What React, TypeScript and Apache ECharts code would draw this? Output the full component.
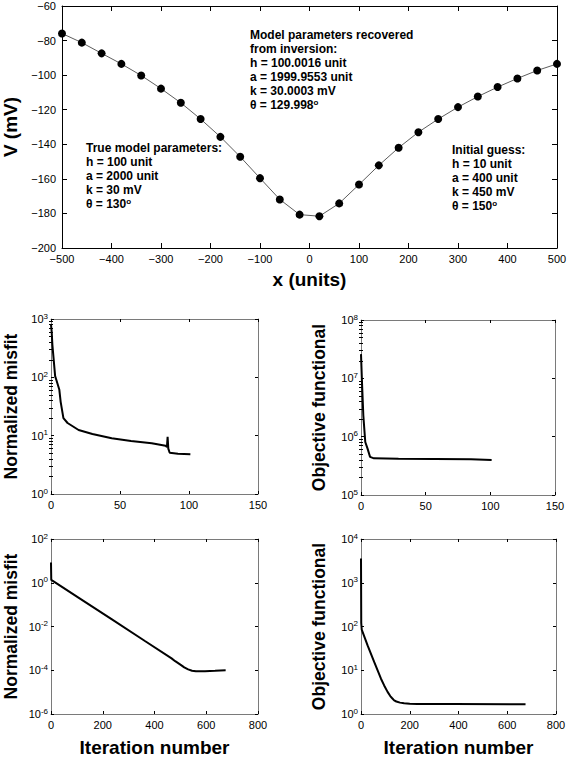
import React, { useEffect, useRef } from "react";
import * as echarts from "echarts";

// ---------- data ----------
const profileX = [-500, -460, -420, -380, -340, -300, -260, -220, -180, -140, -100, -60, -20, 20, 60, 100, 140, 180, 220, 260, 300, 340, 380, 420, 460, 500];
const profileV = [-75.9, -81.2, -87.4, -93.5, -100.2, -107.8, -116.0, -125.4, -135.7, -147.2, -159.6, -171.9, -180.7, -181.6, -174.2, -163.3, -152.2, -142.0, -133.0, -125.4, -118.5, -112.4, -106.9, -101.9, -97.3, -93.5];

const iterA = [0, 0.5, 1, 3, 4, 6, 7, 9, 12, 20, 30, 44, 58, 73, 83, 84, 84.5, 85, 86, 92, 101];
const misfitA = [800, 600, 360, 105, 88, 62, 38, 20, 16.5, 12.5, 10.7, 9.0, 8.1, 7.4, 6.7, 6.4, 9.6, 6.0, 5.1, 4.9, 4.8];

const iterB = [0, 0.25, 0.75, 1.8, 3.3, 5, 7, 10, 29, 85, 101];
const objectiveB = [2.6e7, 2.6e7, 8.7e6, 2.3e6, 8.1e5, 6.3e5, 4.5e5, 4.25e5, 4.2e5, 4.1e5, 4.0e5];

const iterC = [0, 0.5, 1, 106, 234, 363, 466, 480, 500, 515, 530, 545, 560, 595, 634, 675];
const misfitC = [8.5, 8.5, 1.35, 0.209, 0.0216, 0.00218, 3.5e-4, 2.6e-4, 1.8e-4, 1.35e-4, 1.1e-4, 9.5e-5, 8.9e-5, 9.1e-5, 9.5e-5, 1.0e-4];

const iterD = [0, 0.5, 1, 3, 27, 54, 82, 95, 109, 120, 128, 136, 145, 160, 177, 200, 231, 381, 675];
const objectiveD = [3600, 3600, 120, 85, 37, 15.5, 6.4, 4.5, 3.2, 2.57, 2.29, 2.05, 1.93, 1.82, 1.76, 1.72, 1.7, 1.7, 1.67];

const recoveredText = ["Model parameters recovered", "from inversion:", "h = 100.0016 unit", "a = 1999.9553 unit", "k = 30.0003 mV"];
const recoveredTheta = "θ = 129.998";
const trueText = ["True model parameters:", "h = 100 unit", "a = 2000 unit", "k = 30 mV"];
const trueTheta = "θ = 130";
const initialText = ["Initial guess:", "h = 10 unit", "a = 400 unit", "k = 450 mV"];
const initialTheta = "θ = 150";

const FONT = "'Liberation Sans', Arial, Helvetica, sans-serif";
const GRAY = "#7a7a7a";

const zip = (xs: number[], ys: number[]) => xs.map((x, i) => [x, ys[i]]);
const minusFmt = (v: number) => (v < 0 ? "\u2212" + Math.abs(v) : String(v));
const logFmt = (v: number) => {
  const e = Math.round(Math.log10(v));
  return `{b|10}{s|${e < 0 ? "-" + -e : e}}`;
};
const logRich = {
  b: { fontSize: 11, fontFamily: FONT, color: "#000", lineHeight: 14 },
  s: { fontSize: 8, fontFamily: FONT, color: "#000", lineHeight: 8, verticalAlign: "top" },
};
const minorValues = (lo: number, hi: number) => {
  const out: number[] = [];
  for (let e = lo; e < hi; e++) for (let k = 2; k <= 9; k++) out.push(k * Math.pow(10, e));
  return out;
};

type Panel = {
  grid: { left: number; top: number; width: number; height: number };
  xMax: number;
  xInterval: number;
  yExp: [number, number];
  yTicks?: number[];
  minor: boolean;
  yName: string;
  yNameGap: number;
  xName?: string;
  data: number[][];
};

const panels: Panel[] = [
  { grid: { left: 51, top: 319, width: 207, height: 175 }, xMax: 150, xInterval: 50, yExp: [0, 3], minor: true, yName: "Normalized misfit", yNameGap: 31, data: zip(iterA, misfitA) },
  { grid: { left: 361, top: 320, width: 194, height: 175 }, xMax: 150, xInterval: 50, yExp: [5, 8], minor: true, yName: "Objective functional", yNameGap: 33, data: zip(iterB, objectiveB) },
  { grid: { left: 51, top: 539, width: 207, height: 175 }, xMax: 800, xInterval: 200, yExp: [-6, 2], yTicks: [1e-6, 1e-4, 1e-2, 1, 100], minor: false, yName: "Normalized misfit", yNameGap: 31, xName: "Iteration number", data: zip(iterC, misfitC) },
  { grid: { left: 361, top: 539, width: 195, height: 175 }, xMax: 800, xInterval: 200, yExp: [0, 4], minor: false, yName: "Objective functional", yNameGap: 33, xName: "Iteration number", data: zip(iterD, objectiveD) },
];

function buildOption() {
  const grids: any[] = [{ left: 62, top: 6, width: 495, height: 242, containLabel: false, outerBoundsMode: "none" }];
  const xAxes: any[] = [];
  const yAxes: any[] = [];
  const series: any[] = [];

  // ---- top profile chart ----
  const blackLine = { show: true, onZero: false, lineStyle: { color: "#000", width: 1 } };
  const topTick = { show: true, inside: true, length: 5, lineStyle: { color: "#000" } };
  const lbl = { color: "#000", fontSize: 11, fontFamily: FONT };
  xAxes.push({
    gridIndex: 0, type: "value", position: "bottom", min: -500, max: 500, interval: 100,
    axisLine: blackLine, axisTick: topTick, splitLine: { show: false },
    axisLabel: { ...lbl, margin: 5, formatter: minusFmt },
    name: "x (units)", nameLocation: "middle", nameGap: 22,
    nameTextStyle: { fontSize: 19, fontWeight: "bold", fontFamily: FONT, color: "#000" },
  });
  xAxes.push({
    gridIndex: 0, type: "value", position: "top", min: -500, max: 500, interval: 100,
    axisLine: blackLine, axisTick: topTick, splitLine: { show: false }, axisLabel: { show: false },
  });
  yAxes.push({
    gridIndex: 0, type: "value", position: "left", min: -200, max: -60, interval: 20,
    axisLine: blackLine, axisTick: topTick, splitLine: { show: false },
    axisLabel: { ...lbl, margin: 6, formatter: minusFmt },
    name: "V (mV)", nameLocation: "middle", nameGap: 38,
    nameTextStyle: { fontSize: 19, fontWeight: "bold", fontFamily: FONT, color: "#000" },
  });
  yAxes.push({
    gridIndex: 0, type: "value", position: "right", min: -200, max: -60, interval: 20,
    axisLine: blackLine, axisTick: topTick, splitLine: { show: false }, axisLabel: { show: false },
  });
  series.push({
    type: "line", xAxisIndex: 0, yAxisIndex: 0, data: zip(profileX, profileV),
    symbol: "circle", symbolSize: 8, itemStyle: { color: "#000" },
    lineStyle: { color: "#333", width: 0.8 }, silent: true,
  });

  // ---- convergence panels ----
  const grayLine = { show: true, onZero: false, lineStyle: { color: GRAY, width: 1 } };
  const pTick = { show: true, inside: true, length: 3, lineStyle: { color: "#000" } };
  panels.forEach((p, i) => {
    const g = i + 1;
    grids.push({ ...p.grid, containLabel: false, outerBoundsMode: "none" });
    const ymin = Math.pow(10, p.yExp[0]);
    const ymax = Math.pow(10, p.yExp[1]);
    const xi = xAxes.length;
    xAxes.push({
      gridIndex: g, type: "value", position: "bottom", min: 0, max: p.xMax, interval: p.xInterval,
      axisLine: grayLine, axisTick: pTick, splitLine: { show: false },
      axisLabel: { ...lbl, margin: 5 },
      name: p.xName, nameLocation: "middle", nameGap: 24,
      nameTextStyle: { fontSize: 19, fontWeight: "bold", fontFamily: FONT, color: "#000" },
    });
    xAxes.push({
      gridIndex: g, type: "value", position: "top", min: 0, max: p.xMax, interval: p.xInterval,
      axisLine: grayLine, axisTick: pTick, splitLine: { show: false }, axisLabel: { show: false },
    });
    const yi = yAxes.length;
    const tickExtra = p.yTicks ? { customValues: p.yTicks } : {};
    yAxes.push({
      gridIndex: g, type: "log", logBase: 10, position: "left", min: ymin, max: ymax,
      axisLine: grayLine, axisTick: { ...pTick, ...tickExtra }, splitLine: { show: false },
      axisLabel: { margin: 3, formatter: logFmt, rich: logRich, ...tickExtra },
      name: p.yName, nameLocation: "middle", nameGap: p.yNameGap,
      nameTextStyle: { fontSize: 17.5, fontWeight: "bold", fontFamily: FONT, color: "#000" },
    });
    yAxes.push({
      gridIndex: g, type: "log", logBase: 10, position: "right", min: ymin, max: ymax,
      axisLine: grayLine, axisTick: { ...pTick, ...tickExtra }, splitLine: { show: false }, axisLabel: { show: false },
    });
    if (p.minor) {
      const mv = minorValues(p.yExp[0], p.yExp[1]);
      ["left", "right"].forEach((pos) => {
        yAxes.push({
          gridIndex: g, type: "log", logBase: 10, position: pos, min: ymin, max: ymax,
          axisLine: { show: false },
          axisTick: { show: true, inside: true, length: 2, customValues: mv, lineStyle: { color: "#000" } },
          axisLabel: { show: false, customValues: mv }, splitLine: { show: false },
        });
      });
    }
    series.push({
      type: "line", xAxisIndex: xi, yAxisIndex: yi, data: p.data, symbol: "none",
      lineStyle: { color: "#000", width: 2 }, silent: true,
    });
  });

  const textStyle = (lines: string[], theta: string) => ({
    text: lines.join("\n") + "\n" + theta + "{s|o}",
    fontSize: 12, fontWeight: "bold", fontFamily: FONT, lineHeight: 14, fill: "#000",
    rich: { s: { fontSize: 8, fontWeight: "bold", fontFamily: FONT, lineHeight: 8, verticalAlign: "top", fill: "#000" } },
  });

  return {
    animation: false,
    backgroundColor: "#fff",
    grid: grids,
    xAxis: xAxes,
    yAxis: yAxes,
    series,
    graphic: [
      { type: "text", x: 250, y: 28, style: textStyle(recoveredText, recoveredTheta) },
      { type: "text", x: 86, y: 141, style: textStyle(trueText, trueTheta) },
      { type: "text", x: 452, y: 143, style: textStyle(initialText, initialTheta) },
    ],
  };
}

export default function App() {
  const ref = useRef<HTMLDivElement>(null);
  useEffect(() => {
    if (!ref.current) return;
    const chart = echarts.init(ref.current, undefined, { renderer: "svg" });
    chart.setOption(buildOption() as any);
    return () => chart.dispose();
  }, []);
  return <div ref={ref} style={{ position: "absolute", left: 0, top: 0, width: 567, height: 760 }} />;
}
